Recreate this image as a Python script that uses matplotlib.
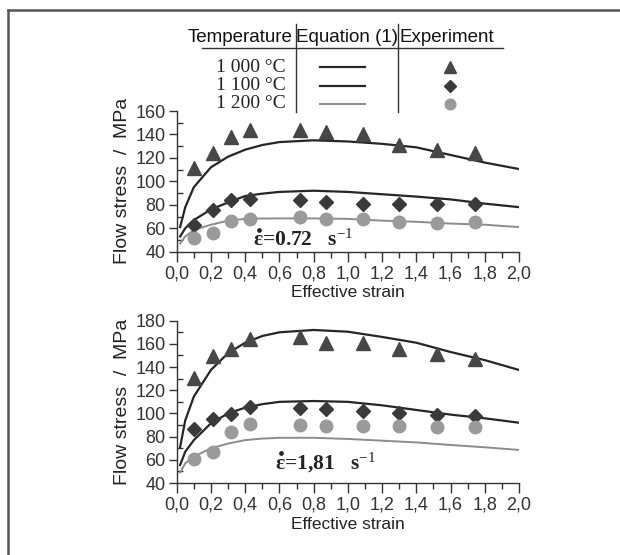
import matplotlib
matplotlib.use("Agg")
import matplotlib.pyplot as plt
from matplotlib.lines import Line2D
from matplotlib.ticker import MultipleLocator, FuncFormatter

# Strain points of the model curves (Equation (1))
strain_eq = [0.02, 0.05, 0.1, 0.2, 0.3, 0.4, 0.5, 0.6, 0.8, 1.0, 1.2, 1.4, 1.6, 1.8, 2.0]

# Top panel: strain rate 0.72 s-1
eq_072_1000 = [61, 78, 95, 112, 121, 127, 131, 133.5, 135, 134, 132, 129, 122.5, 116, 110.5]
eq_072_1100 = [53, 60, 67, 76, 82, 87.5, 89.5, 91, 92, 91, 89, 87, 84.6, 81, 78]
eq_072_1200 = [47, 53, 58.5, 63, 66.5, 68, 68.3, 68.4, 68.4, 68, 66.5, 65.5, 64, 63, 61]

# Bottom panel: strain rate 1.81 s-1
eq_181_1000 = [71, 94, 114.5, 137.5, 152, 161, 166.8, 170, 172, 170.5, 166, 161, 153, 146, 137.5]
eq_181_1100 = [55.5, 67, 77, 91.5, 100, 105, 108, 110, 110.7, 110, 107, 103, 99, 95.8, 92]
eq_181_1200 = [49, 57, 62.7, 70, 74, 77, 78.3, 79, 79, 78, 76.5, 75, 72.8, 70.8, 68.5]

# Experimental points
strain_exp = [0.10, 0.21, 0.32, 0.43, 0.72, 0.87, 1.09, 1.30, 1.52, 1.74]
exp_072_1000 = [111, 124, 138, 144, 144, 142, 140, 131, 127, 124]
exp_072_1100 = [62.7, 75.5, 84, 84.6, 84, 82, 80.7, 80.4, 80.7, 80.4]
exp_072_1200 = [52, 56, 66.4, 68, 69.5, 68, 67.5, 65, 64.7, 65]
exp_181_1000 = [131, 149.5, 155.5, 164, 165.6, 161, 161, 156, 151, 146.6]
exp_181_1100 = [87, 95.5, 99.5, 105.8, 104.4, 103.5, 102, 100, 98.3, 97.5]
exp_181_1200 = [60.4, 67, 84, 90.6, 90, 89, 89, 89, 88.6, 88]

temps = ["1 000 °C", "1 100 °C", "1 200 °C"]
rates = ["0.72", "1,81"]

W, H = 620, 555
plt.rcParams['font.family'] = ['Liberation Sans', 'DejaVu Sans']
plt.rcParams['mathtext.fontset'] = 'custom'
plt.rcParams['mathtext.rm'] = 'Liberation Serif'
plt.rcParams['mathtext.it'] = 'Liberation Serif:italic'
plt.rcParams['mathtext.bf'] = 'Liberation Serif:bold'
fig = plt.figure(figsize=(W / 100, H / 100), dpi=100)


def fx(px):
    return px / W


def fy(py):
    return 1 - py / H


line_col = ['#262626', '#262626', '#8c8c8c']
line_w = [1.6, 1.6, 1.4]
mark_style = [dict(marker='^', ms=10.5, color='#474747'),
              dict(marker='D', ms=7, color='#3a3a3a'),
              dict(marker='o', ms=9, color='#9a9a9a')]
serif = ['Liberation Serif', 'DejaVu Serif']


def style_axes(ax, ymax):
    for s in ['top', 'right']:
        ax.spines[s].set_visible(False)
    for s in ['left', 'bottom']:
        ax.spines[s].set_color('#333333')
        ax.spines[s].set_linewidth(1.0)
    ax.set_xlim(0, 2.0)
    ax.set_ylim(40, ymax)
    ax.xaxis.set_major_locator(MultipleLocator(0.2))
    ax.xaxis.set_minor_locator(MultipleLocator(0.1))
    ax.yaxis.set_major_locator(MultipleLocator(20))
    ax.yaxis.set_minor_locator(MultipleLocator(10))
    ax.xaxis.set_major_formatter(FuncFormatter(lambda v, p: f"{v:.1f}".replace('.', ',')))
    ax.tick_params(axis='x', which='major', direction='out', length=7, width=1, labelsize=13,
                   colors='#333333', pad=3)
    ax.tick_params(axis='x', which='minor', direction='out', length=4, width=1, colors='#333333')
    ax.tick_params(axis='y', which='major', direction='out', length=6, width=1, labelsize=13,
                   colors='#333333', pad=2)
    ax.tick_params(axis='y', which='minor', direction='in', length=4, width=1, colors='#333333')
    ax.set_xlabel("Effective strain", fontsize=12.5, color='#222222', labelpad=2)
    ax.set_ylabel("Flow stress  /  MPa", fontsize=14, color='#222222', labelpad=3)


def draw_panel(ax, eqs, exps):
    for i in range(3):
        ax.plot(strain_eq, eqs[i], color=line_col[i], lw=line_w[i], zorder=2)
        st = mark_style[i]
        ax.plot(strain_exp, exps[i], linestyle='none', marker=st['marker'], ms=st['ms'],
                color=st['color'], mec=st['color'], zorder=3)


def rate_label(x, y, rate):
    # epsilon with a dot above, then "= rate  s^-1"
    fig.text(fx(x), fy(y), "ε=" + rate + "   s$^{-1}$", family=serif, fontsize=15.5,
             weight='bold', color='#222222', ha='left', va='center')
    fig.add_artist(Line2D([fx(x + 5.5)], [fy(y - 10.5)], linestyle='none', marker='o', ms=2.4,
                          color='#222222', mec='#222222'))


# Top panel
ax1 = fig.add_axes([fx(176.7), fy(251.7), fx(519) - fx(176.7), fy(111) - fy(251.7)])
draw_panel(ax1, [eq_072_1000, eq_072_1100, eq_072_1200],
           [exp_072_1000, exp_072_1100, exp_072_1200])
style_axes(ax1, 160)
rate_label(253, 240, rates[0])

# Bottom panel
ax2 = fig.add_axes([fx(176.7), fy(483), fx(519) - fx(176.7), fy(320.7) - fy(483)])
draw_panel(ax2, [eq_181_1000, eq_181_1100, eq_181_1200],
           [exp_181_1000, exp_181_1100, exp_181_1200])
style_axes(ax2, 180)
rate_label(275, 463, rates[1])

# Legend table at the top
hdr_y = fy(37)
fig.text(fx(240), hdr_y, "Temperature", fontsize=13.5, ha='center', va='center', color='#111111')
fig.text(fx(347), hdr_y, "Equation (1)", fontsize=13.5, ha='center', va='center', color='#111111')
fig.text(fx(447), hdr_y, "Experiment", fontsize=13.5, ha='center', va='center', color='#111111')
fig.add_artist(Line2D([fx(202), fx(503)], [fy(48), fy(48)], color='#333333', lw=1.0))
fig.add_artist(Line2D([fx(296), fx(296)], [fy(24), fy(112)], color='#333333', lw=1.0))
fig.add_artist(Line2D([fx(398), fx(398)], [fy(24), fy(112)], color='#333333', lw=1.0))
row_y = [67, 85.5, 104]
for i in range(3):
    fig.text(fx(251), fy(row_y[i]), temps[i], family=serif,
             fontsize=14, ha='center', va='center', color='#222222')
    fig.add_artist(Line2D([fx(320), fx(365)], [fy(row_y[i]), fy(row_y[i])],
                          color=line_col[i], lw=line_w[i]))
    st = mark_style[i]
    fig.add_artist(Line2D([fx(450)], [fy(row_y[i])], linestyle='none', marker=st['marker'],
                          ms=st['ms'] * 0.85, color=st['color'], mec=st['color']))

# Outer frame (only top and left edges visible in the crop)
fig.add_artist(Line2D([fx(8), fx(620)], [fy(10), fy(10)], color='#555555', lw=1.8))
fig.add_artist(Line2D([fx(8), fx(8)], [fy(10), fy(555)], color='#555555', lw=1.8))

fig.savefig("out.png", dpi=100)
